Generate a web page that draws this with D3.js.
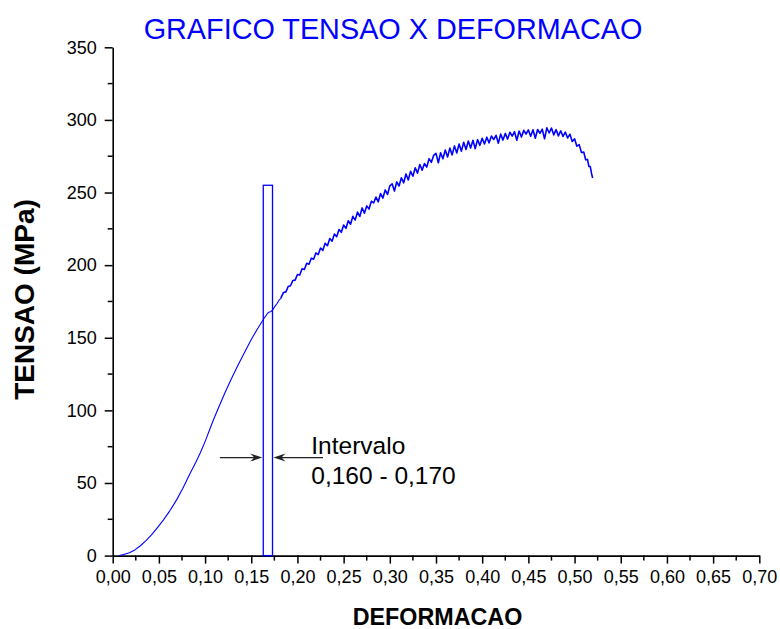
<!DOCTYPE html>
<html>
<head>
<meta charset="utf-8">
<script src="https://cdn.jsdelivr.net/npm/d3@7/dist/d3.min.js"></script>
<style>
  html, body { margin: 0; padding: 0; background: #fff; }
  svg { display: block; }
  text { font-family: "Liberation Sans", Arial, sans-serif; }
</style>
</head>
<body>
<svg id="chart" width="780" height="629"></svg>
<script>
// ---- data ----
const deformacao = [
  0.007,0.012,0.018,0.024,0.030,0.036,0.042,0.048,0.055,0.062,0.069,0.076,0.084,0.090,0.095,0.100,0.105,0.109,
  0.115,0.122,0.129,0.136,0.143,0.149,0.156,0.163,0.167,0.169,0.171,0.173,0.176,0.178,0.180,0.182,
  0.1825,0.185,0.1875,0.19,0.1925,0.195,0.1975,0.2,0.2025,0.205,0.2075,0.21,0.2125,0.215,0.2175,0.22,
  0.2225,0.225,0.2275,0.23,0.2325,0.235,0.2375,0.24,0.2425,0.245,0.2475,0.25,0.2525,0.255,0.2575,0.26,
  0.2625,0.265,0.2675,0.27,0.2725,0.275,0.2775,0.28,0.2825,0.285,0.2875,0.29,0.2925,0.295,0.2975,0.3,
  0.3025,0.305,0.3075,0.31,0.3125,0.315,0.3175,0.32,0.3225,0.325,0.3275,0.33,0.3325,0.335,0.3375,0.34,
  0.3425,0.345,0.3475,0.35,0.3525,0.355,0.3575,0.36,0.3625,0.365,0.3675,0.37,0.3725,0.375,0.3775,0.38,
  0.3825,0.385,0.3875,0.39,0.3925,0.395,0.3975,0.4,0.4025,0.405,0.4075,0.41,0.4125,0.415,0.4175,0.42,
  0.4225,0.425,0.4275,0.43,0.4325,0.435,0.4375,0.44,0.4425,0.445,0.4475,0.45,0.4525,0.455,0.4575,0.46,
  0.4625,0.465,0.4675,0.47,0.4725,0.475,0.4775,0.48,0.4825,0.485,0.4875,0.49,0.4925,0.495,0.4975,0.5,
  0.5025,0.505,0.5075,0.51,0.512,0.514,0.5155,0.517,0.5185,0.5196
];
const tensao = [
  0,0.8,2.0,3.9,6.8,10.3,14.3,18.9,24.6,31.0,38.2,46.4,56.8,64.3,71.0,78.5,86.8,93.4,
  102.5,112.8,122.5,131.6,140.2,147.6,155.4,162.6,166.2,167.6,167.9,169.0,172.0,173.6,175.9,177.0,
  178.0,181.2,181.6,185.3,185.8,189.4,189.7,193.6,193.2,197.5,197.0,201.3,200.6,204.8,204.1,208.4,
  207.3,211.8,210.2,215.0,213.4,218.3,216.5,221.4,219.6,224.5,222.6,227.6,225.3,230.6,228.2,233.6,
  231.0,236.5,233.5,239.4,235.8,240.8,238.6,244.0,242.8,246.9,243.6,249.3,246.2,251.8,248.7,254.6,
  256.0,251.0,257.3,254.5,260.2,256.7,262.8,258.6,264.6,261.2,267.0,263.4,269.3,265.4,270.0,267.5,
  273.3,270.8,275.6,277.0,270.5,277.4,273.2,279.3,274.5,280.6,275.9,282.1,277.2,283.4,278.5,284.6,
  279.6,285.5,280.6,286.0,280.2,286.4,282.5,287.3,283.4,288.1,284.2,288.9,286.5,289.4,284.0,290.2,
  286.1,290.7,286.8,291.5,288.9,291.9,286.0,292.4,288.2,292.8,290.3,293.1,288.8,293.2,287.4,293.4,
  290.8,293.6,287.0,294.6,291.0,294.4,289.7,293.3,289.0,292.5,288.6,291.6,287.6,290.1,285.2,287.0,
  281.9,283.0,277.6,277.8,272.6,272.8,268.0,267.9,262.8,260.0
];
const intervalo = [0.163, 0.173];   // deformation interval box
const intervaloTopo = 255;          // box height (MPa)
const xTicks = [0,0.05,0.10,0.15,0.20,0.25,0.30,0.35,0.40,0.45,0.50,0.55,0.60,0.65,0.70];
const yTicks = [0,50,100,150,200,250,300,350];
const xMinor = [0.025,0.075,0.125,0.175,0.225,0.275,0.325,0.375,0.425,0.475,0.525,0.575,0.625,0.675];
const yMinor = [25,75,125,175,225,275,325];
const titulo = "GRAFICO TENSAO X DEFORMACAO";
const xTitulo = "DEFORMACAO";
const yTitulo = "TENSAO (MPa)";
const anotacao = ["Intervalo", "0,160 - 0,170"];

// ---- chart ----
const svg = d3.select("#chart");
const x = d3.scaleLinear().domain([0, 0.7]).range([112.7, 759.3]);
const y = d3.scaleLinear().domain([0, 350]).range([555.6, 47.3]);
const loc = d3.formatLocale({decimal: ",", thousands: ".", grouping: [3], currency: ["", ""]});
const fx = loc.format(".2f");

// x axis
const gx = svg.append("g").attr("transform", `translate(0,${y(0)})`);
gx.call(d3.axisBottom(x).tickValues(xTicks).tickFormat(fx).tickSizeInner(8).tickSizeOuter(0).tickPadding(7));
gx.append("g").selectAll("line").data(xMinor).join("line")
  .attr("x1", d => x(d)).attr("x2", d => x(d)).attr("y1", 0).attr("y2", 5)
  .attr("stroke", "#000").attr("stroke-width", 1.5);
// y axis
const gy = svg.append("g").attr("transform", `translate(${x(0)},0)`);
gy.call(d3.axisLeft(y).tickValues(yTicks).tickFormat(d3.format("d")).tickSizeInner(8).tickSizeOuter(0).tickPadding(8));
gy.append("g").selectAll("line").data(yMinor).join("line")
  .attr("y1", d => y(d)).attr("y2", d => y(d)).attr("x1", 0).attr("x2", -5)
  .attr("stroke", "#000").attr("stroke-width", 1.5);

svg.selectAll(".domain").attr("stroke", "#000").attr("stroke-width", 1.6);
svg.selectAll(".tick line").attr("stroke", "#000").attr("stroke-width", 1.5);
svg.selectAll(".tick text").attr("font-size", 18).attr("fill", "#000")
  .attr("font-family", "'Liberation Sans', Arial, sans-serif");

// interval box
svg.append("rect")
  .attr("x", x(intervalo[0])).attr("y", y(intervaloTopo))
  .attr("width", x(intervalo[1]) - x(intervalo[0]))
  .attr("height", y(0) - y(intervaloTopo))
  .attr("fill", "none").attr("stroke", "#0000ff").attr("stroke-width", 1.3);

// curve: smooth loading part thin, serrated part drawn thicker
const pts = deformacao.map((d, i) => [d, tensao[i]]);
const line = d3.line().x(d => x(d[0])).y(d => y(d[1]));
const split = deformacao.indexOf(0.182);
svg.append("path").datum(pts.slice(0, split + 1))
  .attr("fill", "none").attr("stroke", "#0000ff").attr("stroke-width", 1.1)
  .attr("stroke-linejoin", "round").attr("d", line);
svg.append("path").datum(pts.slice(split))
  .attr("fill", "none").attr("stroke", "#0000ff").attr("stroke-width", 1.6)
  .attr("stroke-linejoin", "round").attr("d", line);

// arrows
const ay = y(67.5);
function arrow(xFrom, xTo) {
  const dir = xTo > xFrom ? 1 : -1;
  svg.append("line").attr("x1", xFrom).attr("x2", xTo - dir * 6).attr("y1", ay).attr("y2", ay)
    .attr("stroke", "#222").attr("stroke-width", 1.2);
  svg.append("path")
    .attr("d", `M${xTo},${ay} L${xTo - dir * 12},${ay - 4} L${xTo - dir * 8},${ay} L${xTo - dir * 12},${ay + 4} Z`)
    .attr("fill", "#222");
}
arrow(x(0.116), x(intervalo[0]) - 1);
arrow(x(0.2277), x(intervalo[1]) + 1);

// annotation text
svg.append("text").attr("x", x(0.215)).attr("y", y(70.2)).attr("font-size", 24.5).attr("fill", "#000").text(anotacao[0]);
svg.append("text").attr("x", x(0.215)).attr("y", y(49.1)).attr("font-size", 24.5).attr("fill", "#000").text(anotacao[1]);

// titles
svg.append("text").attr("x", 393).attr("y", 38.5).attr("text-anchor", "middle")
  .attr("font-size", 28.8).attr("fill", "#0000ff").text(titulo);
svg.append("text").attr("x", (x(0) + x(0.7)) / 2 + 1.5).attr("y", 625).attr("text-anchor", "middle")
  .attr("font-size", 23.3).attr("font-weight", "bold").attr("fill", "#000").text(xTitulo);
svg.append("text").attr("transform", `translate(34,299.5) rotate(-90)`).attr("text-anchor", "middle")
  .attr("font-size", 28).attr("font-weight", "bold").attr("fill", "#000").text(yTitulo);
</script>
</body>
</html>
